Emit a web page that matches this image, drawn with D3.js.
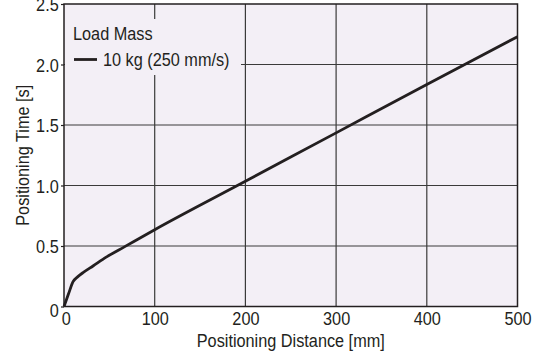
<!DOCTYPE html>
<html>
<head>
<meta charset="utf-8">
<script src="https://cdn.jsdelivr.net/npm/d3@7"></script>
<style>
  html, body { margin: 0; padding: 0; background: #fff; }
  svg text { font-family: "Liberation Sans", Arial, Helvetica, sans-serif; fill: #231f20; }
</style>
</head>
<body>
<svg id="chart" width="536" height="356"></svg>
<script>
// Positioning time vs. distance, 10 kg load at 250 mm/s
const distance = [0, 5, 10, 15, 21, 32, 47, 67, 100, 200, 300, 400, 500];
const time     = [0, 0.105, 0.205, 0.245, 0.28, 0.335, 0.41, 0.495, 0.635, 1.035, 1.435, 1.835, 2.23];

const xTicks = [0, 100, 200, 300, 400, 500];
const yTicks = [0, 0.5, 1.0, 1.5, 2.0, 2.5];
const yTickLabels = ["0", "0.5", "1.0", "1.5", "2.0", "2.5"];

const legendTitle = "Load Mass";
const seriesName = "10 kg (250 mm/s)";
const xTitle = "Positioning Distance [mm]";
const yTitle = "Positioning Time [s]";

const svg = d3.select("#chart");
const m = { left: 64, right: 18.5, top: 4, bottom: 49.5 };
const W = 536, H = 356;
const x = d3.scaleLinear().domain([0, 500]).range([m.left, W - m.right]);
const y = d3.scaleLinear().domain([0, 2.5]).range([H - m.bottom, m.top]);

const ink = "#231f20";
const bg = "#f3eff6";
const fontSize = 18.5;
const squeeze = 0.88;   // condensed lettering

// text placed at (px, py), horizontally condensed
function label(px, py, str, anchor = "start", rot = 0) {
  return svg.append("text")
    .attr("transform", `translate(${px},${py}) rotate(${rot}) scale(${squeeze},1)`)
    .attr("text-anchor", anchor)
    .attr("font-size", fontSize)
    .text(str);
}

// plot background
svg.append("rect")
  .attr("x", x(0)).attr("y", y(2.5))
  .attr("width", x(500) - x(0)).attr("height", y(0) - y(2.5))
  .attr("fill", bg);

// grid
svg.append("g").selectAll("line").data(xTicks.slice(1, -1)).join("line")
  .attr("x1", d => x(d)).attr("x2", d => x(d))
  .attr("y1", y(0)).attr("y2", y(2.5))
  .attr("stroke", "#3a3a3a").attr("stroke-width", 1.2);
svg.append("g").selectAll("line").data(yTicks.slice(1, -1)).join("line")
  .attr("x1", x(0)).attr("x2", x(500))
  .attr("y1", d => y(d)).attr("y2", d => y(d))
  .attr("stroke", "#3a3a3a").attr("stroke-width", 1.2);

// legend panel hides the grid beneath it
svg.append("rect")
  .attr("x", x(0) + 1).attr("y", 19)
  .attr("width", 176).attr("height", 56)
  .attr("fill", bg);

// y axis ticks and labels
const yAxis = d3.axisLeft(y).tickValues(yTicks)
  .tickFormat((d, i) => yTickLabels[i]).tickSize(3).tickPadding(3);
const gy = svg.append("g").attr("transform", `translate(${x(0)},0)`).call(yAxis);
gy.select(".domain").remove();
gy.selectAll(".tick line").attr("stroke", ink).attr("stroke-width", 1.2);
gy.selectAll(".tick text").attr("font-size", fontSize).attr("fill", ink)
  .attr("font-family", null)
  .attr("dy", d => d === 0 ? "0.55em" : "0.36em")
  .attr("transform", `scale(${squeeze},1)`);

// x axis labels
const xAxis = d3.axisBottom(x).tickValues(xTicks).tickFormat(d3.format("d")).tickSize(0).tickPadding(5);
const gx = svg.append("g").attr("transform", `translate(0,${y(0)})`).call(xAxis);
gx.select(".domain").remove();
gx.selectAll(".tick text").attr("font-size", fontSize).attr("fill", ink).attr("font-family", null)
  .attr("dx", d => d === 0 ? 2 : 0)
  .attr("transform", `scale(${squeeze},1)`);

// plot frame
svg.append("rect")
  .attr("x", x(0)).attr("y", y(2.5))
  .attr("width", x(500) - x(0)).attr("height", y(0) - y(2.5))
  .attr("fill", "none").attr("stroke", ink).attr("stroke-width", 1.5);

// curve
const line = d3.line()
  .x((d, i) => x(distance[i])).y((d, i) => y(time[i]))
  .curve(d3.curveMonotoneX);
svg.append("path").datum(time)
  .attr("d", line)
  .attr("fill", "none").attr("stroke", ink).attr("stroke-width", 2.8)
  .attr("stroke-linejoin", "round");

// legend
label(73, 40, legendTitle);
svg.append("line").attr("x1", 74).attr("x2", 97).attr("y1", 59.5).attr("y2", 59.5)
  .attr("stroke", ink).attr("stroke-width", 2.8);
label(103, 65.5, seriesName);

// axis titles
label((x(0) + x(500)) / 2, 347, xTitle, "middle");
label(28.5, (y(0) + y(2.5)) / 2, yTitle, "middle", -90);
</script>
</body>
</html>
